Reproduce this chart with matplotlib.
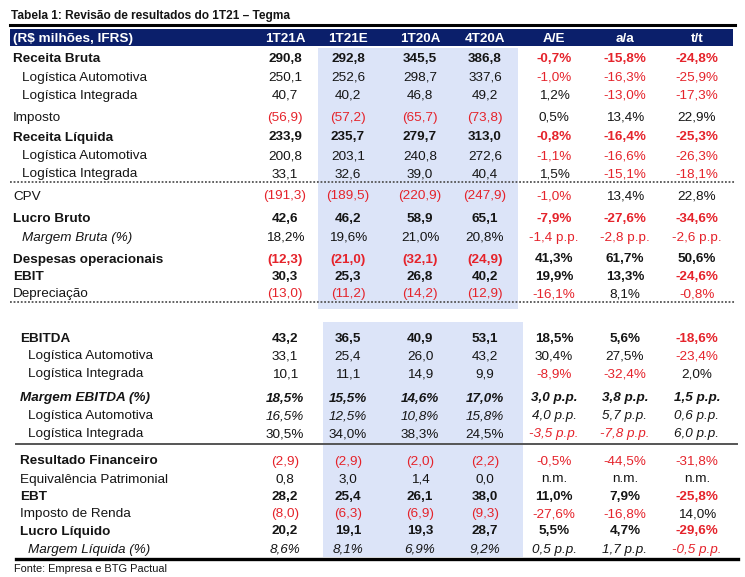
import matplotlib.pyplot as plt

plt.rcParams['font.family'] = ['Liberation Sans', 'DejaVu Sans']

# table content
title = "Tabela 1: Revisão de resultados do 1T21 – Tegma"
source = "Fonte: Empresa e BTG Pactual"
header = ["(R$ milhões, IFRS)", "1T21A", "1T21E", "1T20A", "4T20A", "A/E", "a/a", "t/t"]

labels = ["Receita Bruta", "Logística Automotiva", "Logística Integrada", "Imposto",
          "Receita Líquida", "Logística Automotiva", "Logística Integrada", "CPV",
          "Lucro Bruto", "Margem Bruta (%)", "Despesas operacionais", "EBIT", "Depreciação",
          "EBITDA", "Logística Automotiva", "Logística Integrada",
          "Margem EBITDA (%)", "Logística Automotiva", "Logística Integrada",
          "Resultado Financeiro", "Equivalência Patrimonial", "EBT", "Imposto de Renda",
          "Lucro Líquido", "Margem Líquida (%)"]

# 1T21A, 1T21E, 1T20A, 4T20A
v_1t21a = [290.8, 250.1, 40.7, -56.9, 233.9, 200.8, 33.1, -191.3, 42.6, 18.2, -12.3, 30.3, -13.0,
           43.2, 33.1, 10.1, 18.5, 16.5, 30.5, -2.9, 0.8, 28.2, -8.0, 20.2, 8.6]
v_1t21e = [292.8, 252.6, 40.2, -57.2, 235.7, 203.1, 32.6, -189.5, 46.2, 19.6, -21.0, 25.3, -11.2,
           36.5, 25.4, 11.1, 15.5, 12.5, 34.0, -2.9, 3.0, 25.4, -6.3, 19.1, 8.1]
v_1t20a = [345.5, 298.7, 46.8, -65.7, 279.7, 240.8, 39.0, -220.9, 58.9, 21.0, -32.1, 26.8, -14.2,
           40.9, 26.0, 14.9, 14.6, 10.8, 38.3, -2.0, 1.4, 26.1, -6.9, 19.3, 6.9]
v_4t20a = [386.8, 337.6, 49.2, -73.8, 313.0, 272.6, 40.4, -247.9, 65.1, 20.8, -24.9, 40.2, -12.9,
           53.1, 43.2, 9.9, 17.0, 15.8, 24.5, -2.2, 0.0, 38.0, -9.3, 28.7, 9.2]
# A/E, a/a, t/t (None = n.m.)
ch_ae = [-0.7, -1.0, 1.2, 0.5, -0.8, -1.1, 1.5, -1.0, -7.9, -1.4, 41.3, 19.9, -16.1,
         18.5, 30.4, -8.9, 3.0, 4.0, -3.5, -0.5, None, 11.0, -27.6, 5.5, 0.5]
ch_aa = [-15.8, -16.3, -13.0, 13.4, -16.4, -16.6, -15.1, 13.4, -27.6, -2.8, 61.7, 13.3, 8.1,
         5.6, 27.5, -32.4, 3.8, 5.7, -7.8, -44.5, None, 7.9, -16.8, 4.7, 1.7]
ch_tt = [-24.8, -25.9, -17.3, 22.9, -25.3, -26.3, -18.1, 22.8, -34.6, -2.6, 50.6, -24.6, -0.8,
         -18.6, -23.4, 2.0, 1.5, 0.6, 6.0, -31.8, None, -25.8, 14.0, -29.6, -0.5]

# row formats
pct_rows = [9, 16, 17, 18, 24]          # values shown as %, changes as p.p.
bold_label = [0, 4, 8, 10, 11, 13, 16, 19, 21, 23]
bold_vals = [0, 4, 8, 10, 11, 13, 16, 21, 23]
italic_label = [9, 16, 24]
italic_vals = [16, 17, 24]
italic_chg = [16, 17, 18, 24]
indent = [0, 1, 1, 0, 0, 1, 1, 0, 0, 1, 0, 0, 0,
          0, 1, 1, 0, 1, 1, 0, 0, 0, 0, 0, 1]

# layout (pixels)
row_y = [57, 76, 94, 116, 136, 155, 173, 195, 217, 236, 258, 276, 293,
         338, 355, 373, 397, 415, 433, 460, 478, 495, 513, 530, 548]
col_x = [285, 348, 420, 485, 554, 625, 697]
navy = '#0B1F6B'
red = '#E5232B'
shade = '#DCE4F8'
ink = '#151515'


def fmt_num(v, pct):
    s = f"{abs(v):.1f}".replace('.', ',')
    if pct:
        s += '%'
    return f"({s})" if v < 0 else s


def fmt_chg(v, pp):
    if v is None:
        return "n.m."
    s = f"{v:.1f}".replace('.', ',')
    return s + (" p.p." if pp else "%")


fig = plt.figure(figsize=(7.45, 5.77), dpi=100)
ax = fig.add_axes([0, 0, 1, 1])
ax.set_xlim(0, 745)
ax.set_ylim(577, 0)
ax.axis('off')

fs = 9.7
va = 'center_baseline'

# shaded estimate columns
ax.add_patch(plt.Rectangle((318, 48), 200, 261, color=shade, lw=0, zorder=0))
ax.add_patch(plt.Rectangle((323, 322), 200, 235, color=shade, lw=0, zorder=0))

ax.text(11, 15, title, fontsize=8.6, fontweight='bold', va=va, ha='left', color=ink)
ax.plot([10, 735], [25, 25], color='black', lw=2.2)
ax.add_patch(plt.Rectangle((10, 28.5), 723, 17, color=navy, lw=0))
ax.text(13, 37.5, header[0], color='white', fontsize=fs, fontweight='bold', va=va)
for x, h in zip(col_x, header[1:]):
    ax.text(x, 37.5, h, color='white', fontsize=fs, fontweight='bold', va=va, ha='center')

value_cols = [v_1t21a, v_1t21e, v_1t20a, v_4t20a]
chg_cols = [ch_ae, ch_aa, ch_tt]

for i, lab in enumerate(labels):
    y = row_y[i]
    second = i >= 13
    lx = (20 if second else 13) + 8.5 * indent[i]
    ax.text(lx, y, lab, fontsize=fs, va=va, ha='left', color=ink,
            fontweight='bold' if i in bold_label else 'normal',
            fontstyle='italic' if i in italic_label else 'normal')
    pct = i in pct_rows
    for x, col in zip(col_x[:4], value_cols):
        v = col[i]
        ax.text(x, y, fmt_num(v, pct), fontsize=fs, va=va, ha='center',
                color=red if v < 0 else ink,
                fontweight='bold' if i in bold_vals else 'normal',
                fontstyle='italic' if i in italic_vals else 'normal')
    for x, col in zip(col_x[4:], chg_cols):
        v = col[i]
        ax.text(x, y, fmt_chg(v, pct), fontsize=fs, va=va, ha='center',
                color=red if (v is not None and v < 0) else ink,
                fontweight='bold' if i in bold_vals else 'normal',
                fontstyle='italic' if i in italic_chg else 'normal')

# separators
ax.plot([10, 735], [181.5, 181.5], color='#555555', lw=1.3, ls=(0, (1, 1)))
ax.plot([10, 735], [301.5, 301.5], color='#555555', lw=1.3, ls=(0, (1, 1)))
ax.plot([16, 737], [444, 444], color='#555555', lw=1.4)
ax.plot([16, 738], [559, 559], color='black', lw=2.4)

ax.text(14, 567.5, source, fontsize=7.9, va=va, ha='left', color=ink)

fig.savefig('out.png', dpi=100)
